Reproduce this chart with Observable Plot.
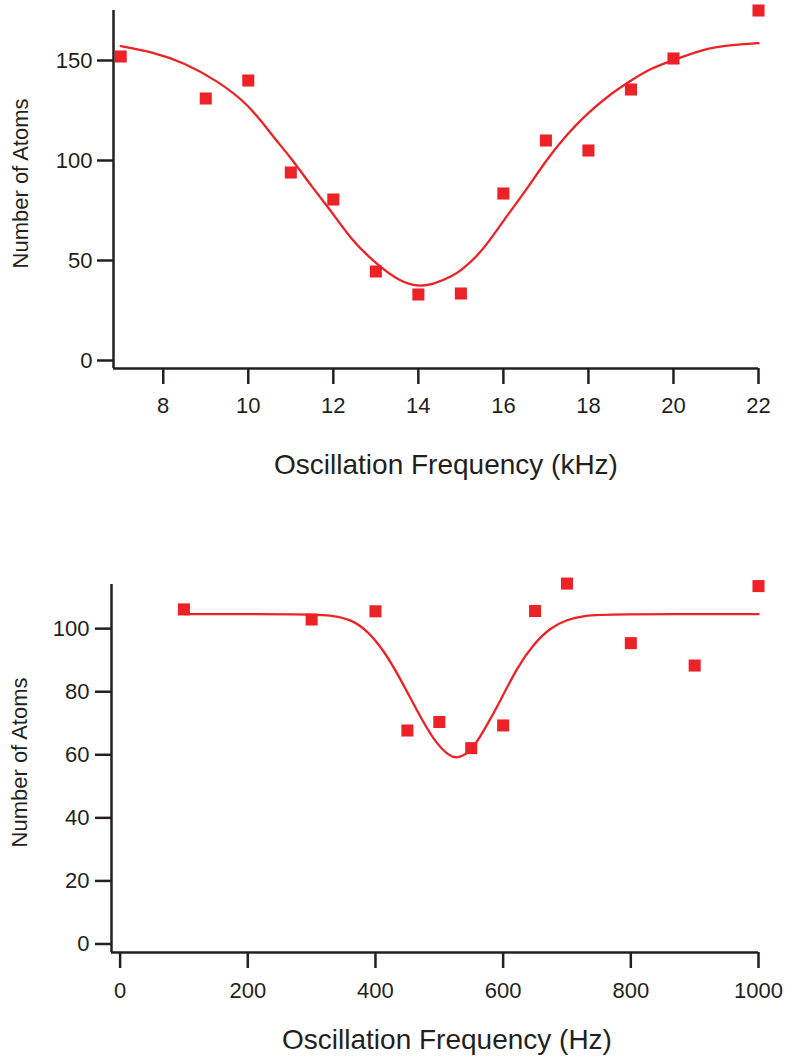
<!DOCTYPE html>
<html>
<head>
<meta charset="utf-8">
<script src="https://cdn.jsdelivr.net/npm/d3@7"></script>
<script src="https://cdn.jsdelivr.net/npm/@observablehq/plot@0.6"></script>
<style>
  html, body { margin: 0; padding: 0; background: #ffffff; }
  #chart svg { display: block; }
</style>
</head>
<body>
<div id="chart"></div>
<script>
// ---- Top panel: kHz scan ----
const topFreq  = [7, 9, 10, 11, 12, 13, 14, 15, 16, 17, 18, 19, 20, 22];
const topAtoms = [152, 131, 140, 94, 80.5, 44.5, 33, 33.5, 83.5, 110, 105, 135.5, 151, 175];

const topFitFreq  = [7, 7.76, 8.48, 9.26, 10, 10.59, 11, 11.5, 12, 12.4, 13, 13.58, 14, 14.35, 14.82, 15, 15.46, 16, 16.56, 17, 17.5, 18, 18.52, 19, 19.46, 20, 20.71, 21, 21.42, 22];
const topFitAtoms = [157.2, 154.2, 149, 140, 128.3, 111.7, 101.5, 86.7, 73.3, 61, 48.3, 39.2, 37, 38, 42.5, 45, 53.3, 70, 85.8, 100, 113.3, 124, 133.3, 140, 146, 150.3, 155.5, 156.7, 157.8, 158.7];

const topXTicks = [8, 10, 12, 14, 16, 18, 20, 22];
const topYTicks = [0, 50, 100, 150];

// ---- Bottom panel: Hz scan ----
const botFreq  = [100, 300, 400, 450, 500, 550, 600, 650, 700, 800, 900, 1000];
const botAtoms = [106.1, 102.9, 105.5, 67.7, 70.4, 62.1, 69.3, 105.6, 114.3, 95.4, 88.3, 113.5];

const botFitFreq  = [100, 300, 335, 361, 387, 413, 439, 465, 491, 517, 530, 549, 570, 596, 622, 648, 674, 700, 726, 763, 1000];
const botFitAtoms = [104.6, 104.6, 104.1, 102.9, 99.5, 93.1, 84.1, 74, 64.5, 59.2, 59, 60.8, 67.7, 77.2, 87.8, 95.2, 100.3, 102.9, 104.1, 104.6, 104.6];

const botXTicks = [0, 200, 400, 600, 800, 1000];
const botYTicks = [0, 20, 40, 60, 80, 100];

const yLabel = "Number of Atoms";
const topXLabel = "Oscillation Frequency (kHz)";
const botXLabel = "Oscillation Frequency (Hz)";

const RED = "#ec2227";
const INK = "#231f20";

const zip = (xs, ys) => xs.map((x, i) => ({x, y: ys[i]}));

function panel(cfg) {
  const pts = zip(cfg.freq, cfg.atoms);
  const fit = zip(cfg.fitFreq, cfg.fitAtoms);
  return Plot.plot({
    width: 788,
    height: cfg.height,
    marginLeft: cfg.marginLeft,
    marginRight: 30,
    marginTop: cfg.marginTop,
    marginBottom: cfg.marginBottom,
    style: {
      background: "#ffffff",
      color: INK,
      fontFamily: "'Liberation Sans', Arial, Helvetica, sans-serif",
      fontSize: "22px",
      overflow: "visible"
    },
    x: {domain: cfg.xDomain},
    y: {domain: cfg.yDomain},
    marks: [
      Plot.ruleX([cfg.xDomain[0]], {stroke: INK, strokeWidth: 2.5}),
      Plot.ruleY([cfg.yDomain[0]], {stroke: INK, strokeWidth: 2.5}),
      Plot.axisX({ticks: cfg.xTicks, tickFormat: d3.format("d"), tickSize: 16, tickPadding: cfg.xPad, strokeWidth: 2.5, fontSize: 22, label: null, fill: INK}),
      Plot.axisY({ticks: cfg.yTicks, tickFormat: d3.format("d"), tickSize: 16, tickPadding: cfg.yPad, strokeWidth: 2.5, fontSize: 22, label: null, fill: INK}),
      Plot.line(fit, {x: "x", y: "y", stroke: RED, strokeWidth: 2.3, curve: "basis"}),
      Plot.dot(pts, {x: "x", y: "y", symbol: "square", r: 6.8, fill: RED, stroke: "none"}),
      Plot.text([yLabel], {frameAnchor: "left", textAnchor: "middle", rotate: -90, dx: cfg.yLabelDx, dy: cfg.yLabelDy, fontSize: 22, fill: INK}),
      Plot.text([cfg.xLabel], {frameAnchor: "bottom", textAnchor: "middle", lineAnchor: "bottom", dx: cfg.xLabelDx, dy: cfg.xLabelDy, fontSize: 28, fill: INK})
    ]
  });
}

const chart = document.getElementById("chart");
chart.appendChild(panel({
  freq: topFreq, atoms: topAtoms, fitFreq: topFitFreq, fitAtoms: topFitAtoms,
  xTicks: topXTicks, yTicks: topYTicks,
  xDomain: [6.83, 22], yDomain: [-4, 175],
  height: 500, marginLeft: 113, marginTop: 10, marginBottom: 132,
  xPad: 13, yPad: 5,
  yLabelDx: -93, yLabelDy: -6,
  xLabel: topXLabel, xLabelDx: 10, xLabelDy: 105
}));
chart.appendChild(panel({
  freq: botFreq, atoms: botAtoms, fitFreq: botFitFreq, fitAtoms: botFitAtoms,
  xTicks: botXTicks, yTicks: botYTicks,
  xDomain: [-13.5, 1000], yDomain: [-2.7, 114],
  height: 558, marginLeft: 111, marginTop: 84, marginBottom: 106,
  xPad: 14, yPad: 6,
  yLabelDx: -92, yLabelDy: -6,
  xLabel: botXLabel, xLabelDx: 12, xLabelDy: 96
}));
</script>
</body>
</html>
